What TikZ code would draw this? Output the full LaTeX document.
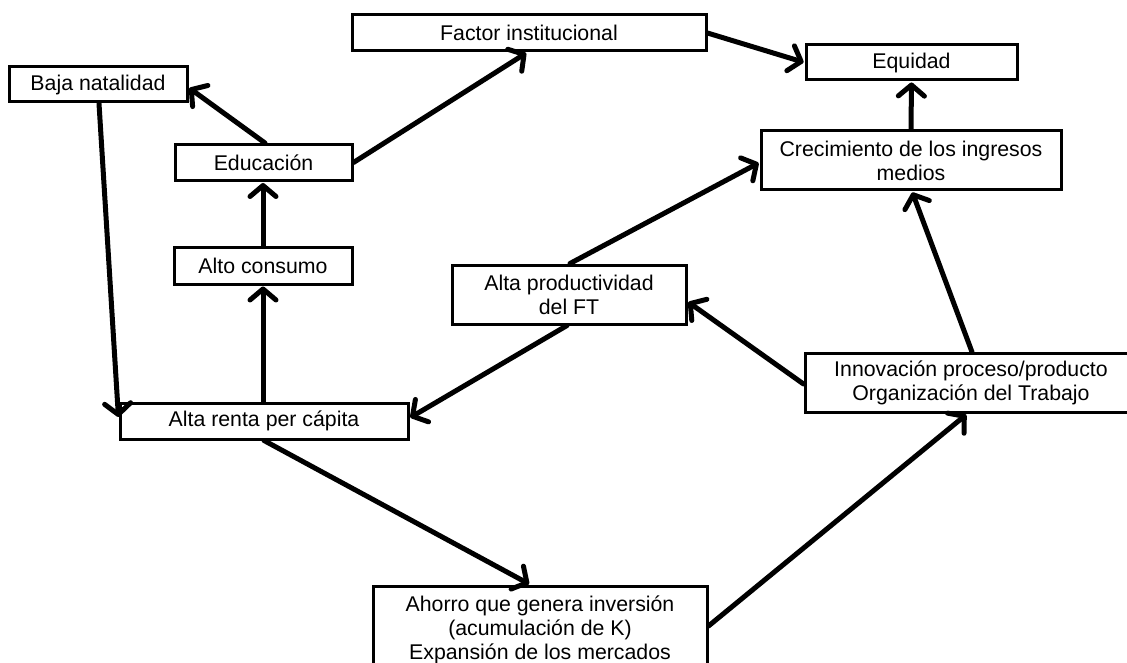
\documentclass[tikz,border=0pt]{standalone}
\usepackage{fontspec}
\setmainfont{Liberation Sans}
\usetikzlibrary{arrows.meta}
\begin{document}
\begin{tikzpicture}[x=1pt,y=-1pt,
  box/.style={draw, line width=3pt, align=center, inner sep=0pt, font=\fontsize{21.3}{24}\selectfont},
  arr/.style={line width=5pt, line cap=round, shorten >=1pt, -{Straight Barb[length=11pt,width=26pt,round]}}]
\useasboundingbox (0,0) rectangle (1127,663);
\fill[white] (0,0) rectangle (1127,663);
\node[box, minimum width=178pt, minimum height=35pt] (baja) at (98,84.5) {Baja natalidad};
\node[box, minimum width=177pt, minimum height=36pt] (edu) at (263.5,162.5) {Educación};
\node[box, minimum width=354pt, minimum height=36pt] (fact) at (529,33) {Factor institucional};
\node[box, minimum width=211pt, minimum height=35pt] (equi) at (911.5,62.5) {Equidad};
\node[box, minimum width=300pt, minimum height=59pt] (crec) at (911,160.5) {Crecimiento de los ingresos\\medios};
\node[box, minimum width=178pt, minimum height=37pt] (alto) at (263,265.5) {Alto consumo};
\node[box, minimum width=288pt, minimum height=36pt] (renta) at (264,421) {Alta renta per cápita};
\node[box, minimum width=234pt, minimum height=59pt] (prod) at (569,294.5) {Alta productividad\\del FT};
\node[box, minimum width=332pt, minimum height=59pt] (innov) at (971,383) {Innovación proceso/producto\\Organización del Trabajo};
\node[box, minimum width=334pt, minimum height=88pt] (ahorro) at (540,630) {Ahorro que genera inversión\\(acumulación de K)\\Expansión de los mercados};
% connectors
\draw[arr] ([xshift=1.5pt]edu.north) -- ([yshift=-3pt]baja.east);
\draw[arr] (edu.east) -- ([xshift=-2pt]fact.south);
\draw[arr] (fact.east) -- (equi.west);
\draw[arr] (crec.north) -- (equi.south);
\draw[arr] (alto.north) -- (edu.south -| alto.north);
\draw[arr] (alto.south |- renta.north) -- (alto.south);
\draw[arr] ([xshift=1pt]baja.south) -- ([yshift=3pt]renta.west);
\draw[arr] ([xshift=-2pt]prod.south) -- ([yshift=3pt]renta.east);
\draw[arr] ([xshift=1pt]prod.north) -- ([yshift=-2pt]crec.west);
\draw[arr] ([yshift=-1pt]innov.west) -- ([yshift=-7pt]prod.east);
\draw[arr] ([xshift=1pt]innov.north) -- ([xshift=1pt]crec.south);
\draw[arr] (renta.south) -- ([xshift=-10pt]ahorro.north);
\draw[arr] ([yshift=4pt]ahorro.east) -- ([xshift=-4pt]innov.south);
\end{tikzpicture}
\end{document}
